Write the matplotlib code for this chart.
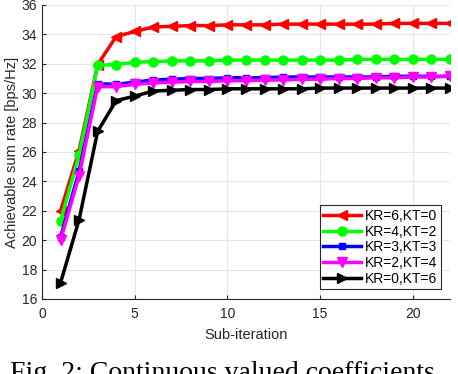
import numpy as np
import matplotlib
matplotlib.use('Agg')
from matplotlib import pyplot as plt

plt.rcParams['font.family'] = 'Liberation Sans'

sub_iter = list(range(1, 23))
labels = ['KR=6,KT=0', 'KR=4,KT=2', 'KR=3,KT=3', 'KR=2,KT=4', 'KR=0,KT=6']
rate_kr6 = [22.0, 26.1, 31.95, 33.85, 34.2, 34.5, 34.55, 34.6, 34.6, 34.65, 34.65,
            34.65, 34.7, 34.7, 34.7, 34.7, 34.7, 34.7, 34.75, 34.75, 34.75, 34.75]
rate_kr4 = [21.3, 25.8, 31.9, 31.95, 32.1, 32.15, 32.2, 32.2, 32.2, 32.25, 32.25,
            32.25, 32.25, 32.25, 32.25, 32.25, 32.3, 32.3, 32.3, 32.3, 32.3, 32.3]
rate_kr3 = [20.2, 24.7, 30.65, 30.6, 30.75, 30.9, 30.95, 31.0, 31.0, 31.05, 31.05,
            31.05, 31.1, 31.1, 31.1, 31.1, 31.1, 31.1, 31.15, 31.15, 31.15, 31.15]
rate_kr2 = [20.0, 24.4, 30.45, 30.45, 30.6, 30.7, 30.75, 30.8, 30.8, 30.85, 30.85,
            30.9, 30.9, 30.95, 30.95, 31.0, 31.0, 31.05, 31.05, 31.1, 31.1, 31.15]
rate_kr0 = [17.1, 21.4, 27.4, 29.5, 29.8, 30.15, 30.2, 30.25, 30.25, 30.3, 30.3,
            30.3, 30.3, 30.3, 30.35, 30.35, 30.35, 30.35, 30.35, 30.35, 30.35, 30.35]

fig = plt.figure(figsize=(4.58, 3.74), dpi=100)
ax = fig.add_axes([42/458, 75/374, 408/458, 294/374])

ax.plot(sub_iter, rate_kr6, '-<', color='r', lw=2.5, ms=7.5, label=labels[0])
ax.plot(sub_iter, rate_kr4, '-o', color='#00ff00', lw=2.5, ms=6.5, label=labels[1])
ax.plot(sub_iter, rate_kr3, '-s', color='b', lw=2.5, ms=5, label=labels[2])
ax.plot(sub_iter, rate_kr2, '-v', color='#ff00ff', lw=2.5, ms=7.5, label=labels[3])
ax.plot(sub_iter, rate_kr0, '->', color='k', lw=2.5, ms=7.5, label=labels[4])

ax.set_xlim(0, 22)
ax.set_ylim(16, 36)
ax.set_xticks([0, 5, 10, 15, 20])
ax.set_yticks(np.arange(16, 37, 2))
ax.grid(True, color='#e6e6e6', lw=0.8)
ax.set_axisbelow(True)
for s in ['top', 'right']:
    ax.spines[s].set_visible(False)
for s in ['left', 'bottom']:
    ax.spines[s].set_color('#262626')
ax.tick_params(labelsize=10, colors='#262626', direction='in', length=3)
ax.tick_params(axis='x', pad=6)
ax.set_xlabel('Sub-iteration', fontsize=10.5, color='#262626', labelpad=5)
ax.set_ylabel('Achievable sum rate [bps/Hz]', fontsize=10.5, color='#262626', labelpad=2)

leg = ax.legend(loc='lower right', fontsize=10, fancybox=False, framealpha=1,
                edgecolor='#262626', handlelength=2.7, borderpad=0.25,
                labelspacing=0.12, handletextpad=0.3, borderaxespad=0.0,
                bbox_to_anchor=(441/458, 85/374), bbox_transform=fig.transFigure)
leg.get_frame().set_linewidth(0.8)

fig.text(10/458, -6/374, 'Fig. 2: Continuous valued coefficients.',
         family='Liberation Serif', fontsize=20, va='baseline', ha='left')

fig.savefig('out.png', dpi=100)
